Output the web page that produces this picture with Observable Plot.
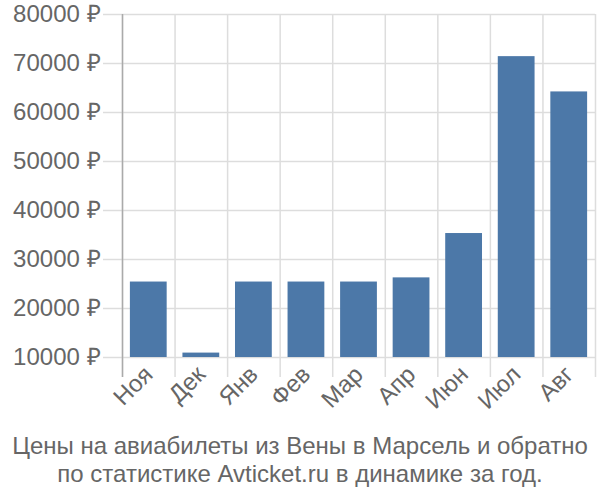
<!DOCTYPE html>
<html>
<head>
<meta charset="utf-8">
<script src="https://cdn.jsdelivr.net/npm/d3@7"></script>
<script src="https://cdn.jsdelivr.net/npm/@observablehq/plot@0.6"></script>
<style>
  html, body { margin: 0; padding: 0; background: #fff; }
  #chart { width: 600px; }
  .caption { font-family: "Liberation Sans", Arial, sans-serif; font-size: 24px; color: #666; text-align: center; line-height: 28px; margin-top: 7px; }
</style>
</head>
<body>
<div id="chart"></div>
<script>
const months = ["Ноя", "Дек", "Янв", "Фев", "Мар", "Апр", "Июн", "Июл", "Авг"];
const prices = [25400, 10900, 25400, 25400, 25400, 26250, 35300, 71400, 64200];
const yTicks = [10000, 20000, 30000, 40000, 50000, 60000, 70000, 80000];
const captionLines = [
  "Цены на авиабилеты из Вены в Марсель и обратно",
  "по статистике Avticket.ru в динамике за год."
];

const data = months.map((m, i) => ({month: m, price: prices[i]}));
const W = 600, ML = 122, MR = 5;
const step = (W - ML - MR) / months.length;

const chart = Plot.plot({
  width: W,
  height: 425,
  marginLeft: ML,
  marginRight: MR,
  marginTop: 14,
  marginBottom: 68,
  style: {fontFamily: "'Liberation Sans', Arial, sans-serif", fontSize: "24px", color: "#666", background: "#fff"},
  x: {type: "band", domain: months, paddingInner: 0.3, paddingOuter: 0.15, round: false, label: null},
  y: {domain: [10000, 80000], label: null},
  marks: [
    Plot.ruleY(yTicks, {y: d => d, stroke: "#ddd", strokeWidth: 1.5, insetLeft: -19}),
    Plot.ruleX(months, {x: d => d, dx: -step / 2, y1: 80000, y2: 10000, stroke: "#ddd", strokeWidth: 1.5, insetBottom: -20}),
    Plot.ruleX(months.slice(-1), {x: d => d, dx: step / 2, y1: 80000, y2: 10000, stroke: "#ddd", strokeWidth: 1.5, insetBottom: -20}),
    Plot.barY(data, {x: "month", y1: 10000, y2: "price", fill: "#4c78a8"}),
    Plot.ruleX(months.slice(0, 1), {x: d => d, dx: -step / 2, y1: 80000, y2: 10000, stroke: "#aaa", strokeWidth: 1.5, insetBottom: -20}),
    Plot.axisY(yTicks, {tickSize: 0, tickPadding: 22, tickFormat: d => d + " ₽", fontSize: 24, fill: "#666"}),
    Plot.axisX({tickSize: 0, tickPadding: 13, tickRotate: -45, fontSize: 24, fill: "#666"})
  ]
});
document.getElementById("chart").appendChild(chart);
const cap = document.createElement("div");
cap.className = "caption";
cap.innerHTML = captionLines.join("<br>");
document.getElementById("chart").appendChild(cap);
</script>
</body>
</html>
